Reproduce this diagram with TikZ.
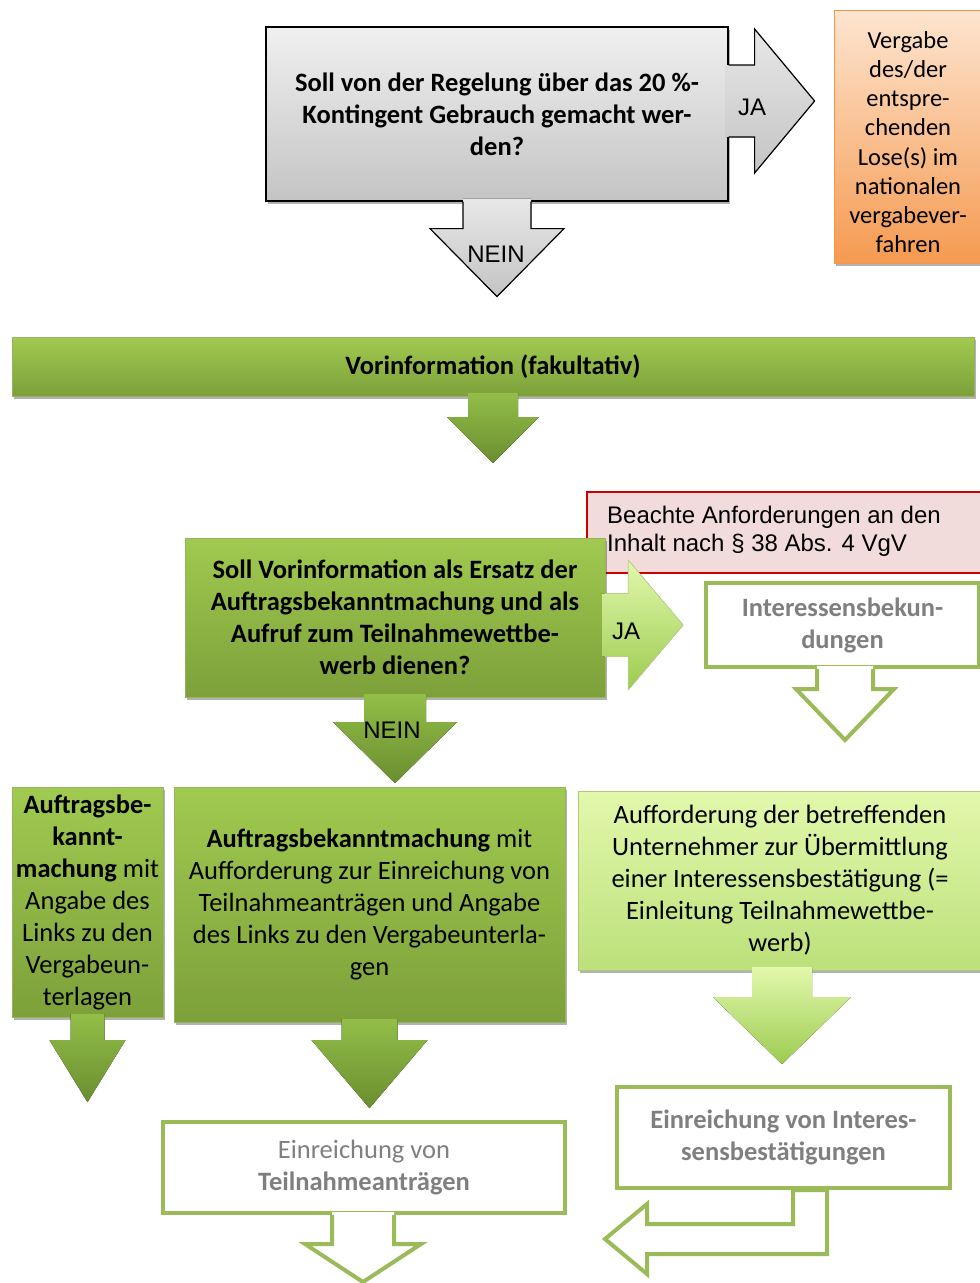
\documentclass[tikz,border=0pt]{standalone}
\usepackage{fontspec}
\setmainfont{Carlito}
\newfontfamily\arialfont{Liberation Sans}
\usetikzlibrary{positioning,calc,shadows}

\definecolor{qTop}{HTML}{F0F0F0}
\definecolor{qBot}{HTML}{C4C4C4}
\definecolor{grnTop}{HTML}{A0CA50}
\definecolor{grnBot}{HTML}{7DA03A}
\definecolor{grnArrTop}{HTML}{92BE48}
\definecolor{grnArrBot}{HTML}{6A8E30}
\definecolor{ltTop}{HTML}{E2F8AC}
\definecolor{ltBot}{HTML}{BCE07A}
\definecolor{ltArrBot}{HTML}{9CCB50}
\definecolor{olive}{HTML}{9BBB59}
\definecolor{orgTop}{HTML}{FDE5D0}
\definecolor{orgBot}{HTML}{F59A50}
\definecolor{orgLine}{HTML}{F79646}
\definecolor{noteFill}{HTML}{F2DCDB}
\definecolor{noteLine}{HTML}{CC0000}
\definecolor{txtGray}{HTML}{7F7F7F}

\newcommand{\bodysize}{\fontsize{26.5}{32}\selectfont}
\newcommand{\smallsize}{\fontsize{24.5}{29.2}\selectfont}
\newcommand{\labsize}{\arialfont\fontsize{24}{28}\selectfont}

% block arrow down: fill, line, anchor, length, half stem, half head, head length
\newcommand{\dnblock}[7]{%
  \fill[#1, shift={(#3)}] (-#5,-3) -- (-#5,#4-#7) -- (-#6,#4-#7) -- (0,#4)
    -- (#6,#4-#7) -- (#5,#4-#7) -- (#5,-3) -- cycle;
  \draw[#2, shift={(#3)}] (-#5,0) -- (-#5,#4-#7) -- (-#6,#4-#7) -- (0,#4)
    -- (#6,#4-#7) -- (#5,#4-#7) -- (#5,0);}
% block arrow right
\newcommand{\rtblock}[7]{%
  \fill[#1, shift={(#3)}] (-3,-#5) -- (#4-#7,-#5) -- (#4-#7,-#6) -- (#4,0)
    -- (#4-#7,#6) -- (#4-#7,#5) -- (-3,#5) -- cycle;
  \draw[#2, shift={(#3)}] (0,-#5) -- (#4-#7,-#5) -- (#4-#7,-#6) -- (#4,0)
    -- (#4-#7,#6) -- (#4-#7,#5) -- (0,#5);}

\tikzset{
  shade/.style={drop shadow={shadow xshift=2pt, shadow yshift=-3pt, opacity=.3, fill=black}},
  qbox/.style={draw=black, line width=1.2pt, top color=qTop, bottom color=qBot, shade,
    inner sep=0pt, align=center, font=\bodysize\bfseries},
  grnbox/.style={draw=grnBot!80, top color=grnTop, bottom color=grnBot, shade,
    inner sep=0pt, align=center, font=\bodysize},
  ltbox/.style={draw=olive!80, top color=ltTop, bottom color=ltBot, shade,
    inner sep=0pt, align=center, font=\bodysize},
  orgbox/.style={draw=orgLine, top color=orgTop, bottom color=orgBot, shade, inner sep=0pt},
  outbox/.style={draw=olive, line width=4pt, fill=white, inner sep=0pt, align=center,
    text=txtGray, font=\bodysize},
  notebox/.style={draw=noteLine, line width=1.2pt, fill=noteFill, inner sep=0pt},
  lbl/.style={font=\labsize, inner sep=0pt},
  grayarr/.style={top color=qTop!80!qBot, bottom color=qBot},
  grnarr/.style={top color=grnArrTop, bottom color=grnArrBot},
  ltarr/.style={top color=ltTop, bottom color=ltArrBot},
  whitearr/.style={fill=white},
  blackline/.style={draw=black, line width=1.2pt},
  oliveline/.style={draw=olive, line width=4pt},
  noline/.style={draw=none},
}

\begin{document}
\begin{tikzpicture}[x=1pt, y=-1pt]
  \path[use as bounding box, clip] (0,0) rectangle (980,1283);

  % Question 20 %
  \node[qbox, minimum width=462pt, minimum height=174pt] (q1) at (497,114)
    {Soll von der Regelung über das 20 \%-\\Kontingent Gebrauch gemacht wer-\\den?};
  \node[orgbox, minimum width=148pt, minimum height=253pt] (o1) at (908,136.5) {};
  \node[align=center, inner sep=0pt, font=\smallsize] (o1text) at (908,142)
    {Vergabe\\des/der\\entspre-\\chenden\\Lose(s) im\\nationalen\\vergabever-\\fahren};
  \dnblock{grayarr}{blackline}{q1.south}{95}{34}{67}{68}
  \rtblock{grayarr}{blackline}{$(q1.east)+(0,-13)$}{86}{36}{72}{60}
  \node[lbl] (ja1) at (752,107) {JA};
  \node[lbl] (nein1) at (496,254) {NEIN};

  % Vorinformation
  \node[grnbox, font=\bodysize\bfseries, minimum width=962pt, minimum height=59pt] (v1) at (493,366.5)
    {Vorinformation (fakultativ)};
  \dnblock{grnarr}{noline}{v1.south}{67}{25}{46}{46}

  % Question Ersatz
  \node[notebox, minimum width=403pt, minimum height=81pt] (n1) at (788.5,532.5) {};
  \node[lbl, anchor=north west, align=left] (n1text) at (607,506)
    {Beachte Anforderungen an den\\Inhalt nach § 38 Abs. 4 VgV};
  \node[grnbox, font=\bodysize\bfseries, minimum width=420pt, minimum height=159pt] (q2) at (395,617.5)
    {Soll Vorinformation als Ersatz der\\Auftragsbekanntmachung und als\\Aufruf zum Teilnahmewettbe-\\werb dienen?};
  \rtblock{ltarr}{draw=olive!70, line width=.6pt}{$(q2.east)+(0,7.5)$}{78}{31.5}{65}{55}
  \node[lbl] (ja2) at (626,631) {JA};
  \node[outbox, font=\bodysize\bfseries, minimum width=273pt, minimum height=84pt] (i1) at (842.5,625)
    {Interessensbekun-\\dungen};
  \dnblock{whitearr}{oliveline}{$(i1.south)+(2.5,0)$}{71}{28}{49}{51}
  \dnblock{grnarr}{noline}{q2.south}{86}{31}{62}{61}
  \node[lbl] (nein2) at (392,730) {NEIN};

  % Bekanntmachung
  \node[grnbox, minimum width=151pt, minimum height=230pt] (l1) at (87.5,902)
    {\textbf{Auftragsbe-}\\\textbf{kannt-}\\\textbf{machung} mit\\Angabe des\\Links zu den\\Vergabeun-\\terlagen};
  \dnblock{grnarr}{noline}{l1.south}{85}{17}{38}{62}
  \node[grnbox, minimum width=391pt, minimum height=235pt] (b1) at (369.5,904.5)
    {\textbf{Auftragsbekanntmachung} mit\\Aufforderung zur Einreichung von\\Teilnahmeanträgen und Angabe\\des Links zu den Vergabeunterla-\\gen};
  \dnblock{grnarr}{noline}{b1.south}{86}{28}{58}{68}
  \node[outbox, minimum width=402pt, minimum height=91pt] (e1) at (364,1167.5)
    {Einreichung von\\\textbf{Teilnahmeanträgen}};
  \dnblock{whitearr}{oliveline}{$(e1.south)+(-1,0)$}{67}{31}{58}{38}

  % Interessensbestaetigung
  \node[ltbox, minimum width=404pt, minimum height=179pt] (a1) at (780,880.5)
    {Aufforderung der betreffenden\\Unternehmer zur Übermittlung\\einer Interessensbestätigung (=\\Einleitung Teilnahmewettbe-\\werb)};
  \dnblock{ltarr}{noline}{$(a1.south)+(2,0)$}{94}{30}{69}{67}
  \node[outbox, font=\bodysize\bfseries, minimum width=333pt, minimum height=101pt] (e2) at (783.5,1137.5)
    {Einreichung von Interes-\\sensbestätigungen};
  \draw[oliveline, fill=white, shift={(e2.south)}] (43.5,0) -- (43.5,64) -- (-136.5,64)
    -- (-136.5,84) -- (-178.5,49) -- (-136.5,14) -- (-136.5,34) -- (9.5,34) -- (9.5,0) -- cycle;
\end{tikzpicture}
\end{document}
